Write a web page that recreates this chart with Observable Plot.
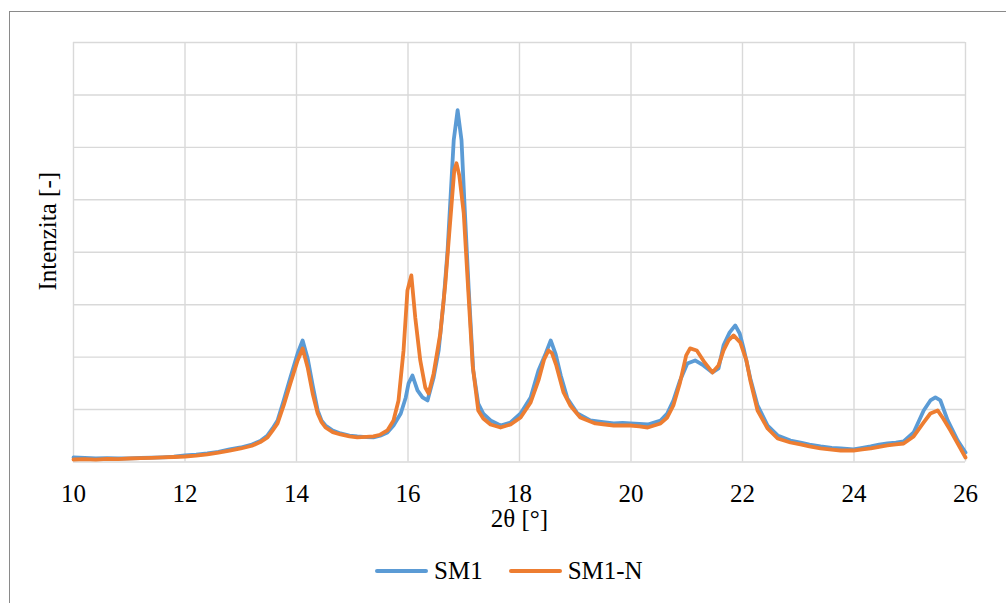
<!DOCTYPE html>
<html>
<head>
<meta charset="utf-8">
<script src="https://cdn.jsdelivr.net/npm/d3@7"></script>
<script src="https://cdn.jsdelivr.net/npm/@observablehq/plot@0.6"></script>
<style>
  html, body { margin: 0; padding: 0; background: #fff; }
  body { width: 1006px; height: 603px; position: relative; overflow: hidden; font-family: "Liberation Serif", Tinos, "Times New Roman", "Noto Serif", "DejaVu Serif", serif; }
  #frame { position: absolute; left: 9px; top: 11px; width: 1010px; height: 610px; border: 1.3px solid #8a8a8a; box-sizing: border-box; }
  #chart { position: absolute; left: 0; top: 0; }
  #legend { position: absolute; left: 375px; top: 557px; display: flex; align-items: center; font-size: 25px; color: #000; }
  .sw { width: 53px; height: 4px; border-radius: 2px; margin-right: 6px; }
  .item { display: flex; align-items: center; margin-right: 26px; }
</style>
</head>
<body>
<div id="frame"></div>
<div id="chart"></div>
<div id="legend"></div>
<script>
const seriesNames = ["SM1", "SM1-N"];
const seriesColors = ["#5b9bd5", "#ed7d31"];
const xTicks = [10, 12, 14, 16, 18, 20, 22, 24, 26];
const yGrid = [0, 1000, 2000, 3000, 4000, 5000, 6000, 7000, 8000];

const sm1X = [10.0,10.2,10.4,10.6,10.8,11.0,11.2,11.4,11.6,11.8,12.0,12.2,12.4,12.6,12.8,13.0,13.2,13.35,13.48,13.57,13.66,13.77,13.89,14.02,14.11,14.2,14.29,14.38,14.45,14.52,14.65,14.79,14.95,15.09,15.25,15.38,15.5,15.63,15.74,15.87,15.96,16.01,16.08,16.17,16.26,16.35,16.46,16.55,16.64,16.71,16.76,16.82,16.89,16.96,17.01,17.09,17.17,17.26,17.35,17.48,17.66,17.84,18.02,18.2,18.34,18.47,18.56,18.65,18.74,18.86,19.04,19.27,19.5,19.69,19.85,19.99,20.15,20.3,20.53,20.65,20.76,20.88,21.01,21.15,21.3,21.46,21.57,21.66,21.77,21.87,21.95,22.02,22.14,22.27,22.45,22.63,22.86,23.04,23.2,23.4,23.6,23.76,23.99,24.15,24.3,24.45,24.6,24.75,24.89,25.07,25.25,25.37,25.46,25.55,25.68,25.86,26.0];
const sm1Y = [86,76,67,72,67,70,76,82,90,100,124,140,165,195,239,277,334,400,506,640,792,1173,1612,2070,2318,1975,1460,983,790,696,600,544,505,487,475,468,500,563,696,925,1231,1498,1650,1364,1231,1173,1612,2127,3082,4036,4990,6135,6708,6135,4990,3273,1746,1116,925,792,696,754,925,1231,1746,2070,2318,2050,1650,1212,925,792,760,735,745,735,725,716,792,925,1173,1555,1880,1937,1842,1708,1784,2223,2471,2605,2450,2166,1593,1078,696,506,410,372,330,296,270,258,239,270,296,330,353,370,391,563,983,1173,1231,1173,792,410,181];

const sm1nX = [10.0,10.2,10.4,10.6,10.8,11.0,11.2,11.4,11.6,11.8,12.0,12.2,12.4,12.6,12.8,13.0,13.2,13.35,13.48,13.57,13.66,13.77,13.89,14.02,14.11,14.2,14.29,14.38,14.45,14.52,14.65,14.79,14.95,15.09,15.25,15.38,15.5,15.63,15.74,15.83,15.92,15.99,16.06,16.13,16.22,16.31,16.37,16.46,16.58,16.67,16.73,16.78,16.83,16.87,16.92,17.0,17.07,17.16,17.26,17.35,17.48,17.66,17.84,18.02,18.2,18.34,18.44,18.52,18.58,18.66,18.79,18.91,19.09,19.36,19.5,19.69,19.85,19.99,20.15,20.3,20.53,20.65,20.76,20.88,20.99,21.06,21.18,21.32,21.46,21.57,21.66,21.75,21.84,21.96,22.07,22.14,22.27,22.45,22.63,22.86,23.04,23.2,23.4,23.6,23.76,23.99,24.15,24.3,24.45,24.6,24.75,24.89,25.07,25.25,25.37,25.5,25.6,25.73,25.86,26.0];
const sm1nY = [48,55,45,60,55,67,72,80,88,95,105,120,145,180,215,258,310,380,468,600,735,1078,1498,1937,2166,1803,1307,925,760,658,570,525,490,468,480,487,520,601,792,1173,2127,3273,3559,2757,1937,1421,1307,1689,2452,3406,4227,4895,5562,5696,5467,4742,3463,1842,983,830,716,658,716,849,1135,1555,1950,2127,2080,1842,1326,1078,849,735,720,696,700,696,680,658,735,849,1078,1517,2032,2166,2127,1899,1708,1842,2127,2318,2414,2280,1937,1555,983,639,448,372,334,300,258,235,219,219,240,258,290,315,335,353,487,754,925,983,830,601,353,86];

const data = [
  ...sm1X.map((x, i) => ({x, y: sm1Y[i], s: seriesNames[0]})),
  ...sm1nX.map((x, i) => ({x, y: sm1nY[i], s: seriesNames[1]}))
];

const FONT = "'Liberation Serif', Tinos, 'Times New Roman', 'Noto Serif', 'DejaVu Serif', serif";
const W = 1006, H = 550;
const chart = Plot.plot({
  width: W,
  height: H,
  marginLeft: 73,
  marginRight: 41,
  marginTop: 42,
  marginBottom: H - 461.5,
  style: {fontFamily: FONT, background: "transparent", color: "#000"},
  x: {domain: [10, 26], ticks: xTicks},
  y: {domain: [0, 8000], axis: null},
  color: {domain: seriesNames, range: seriesColors},
  marks: [
    Plot.gridX(xTicks, {stroke: "#d9d9d9", strokeOpacity: 1, strokeWidth: 1.4}),
    Plot.gridY(yGrid, {stroke: "#d9d9d9", strokeOpacity: 1, strokeWidth: 1.4}),
    Plot.axisX(xTicks, {tickSize: 0, tickPadding: 22, fontSize: 25, fontFamily: FONT, fill: "#000", label: null}),
    Plot.line(data, {x: "x", y: "y", z: "s", stroke: "s", strokeWidth: 3.8, strokeLinejoin: "round", strokeLinecap: "round"}),
    Plot.text(["2θ [°]"], {frameAnchor: "bottom", dy: 65, fontSize: 25, fontFamily: FONT, fill: "#000"}),
    Plot.text(["Intenzita [-]"], {frameAnchor: "left", textAnchor: "middle", dx: -26, dy: -21, rotate: -90, fontSize: 25, fontFamily: FONT, fill: "#000"})
  ]
});
document.getElementById("chart").appendChild(chart);

const legend = document.getElementById("legend");
seriesNames.forEach((n, i) => {
  const item = document.createElement("div");
  item.className = "item";
  const sw = document.createElement("div");
  sw.className = "sw";
  sw.style.background = seriesColors[i];
  const t = document.createElement("span");
  t.textContent = n;
  item.appendChild(sw);
  item.appendChild(t);
  legend.appendChild(item);
});
</script>
</body>
</html>
